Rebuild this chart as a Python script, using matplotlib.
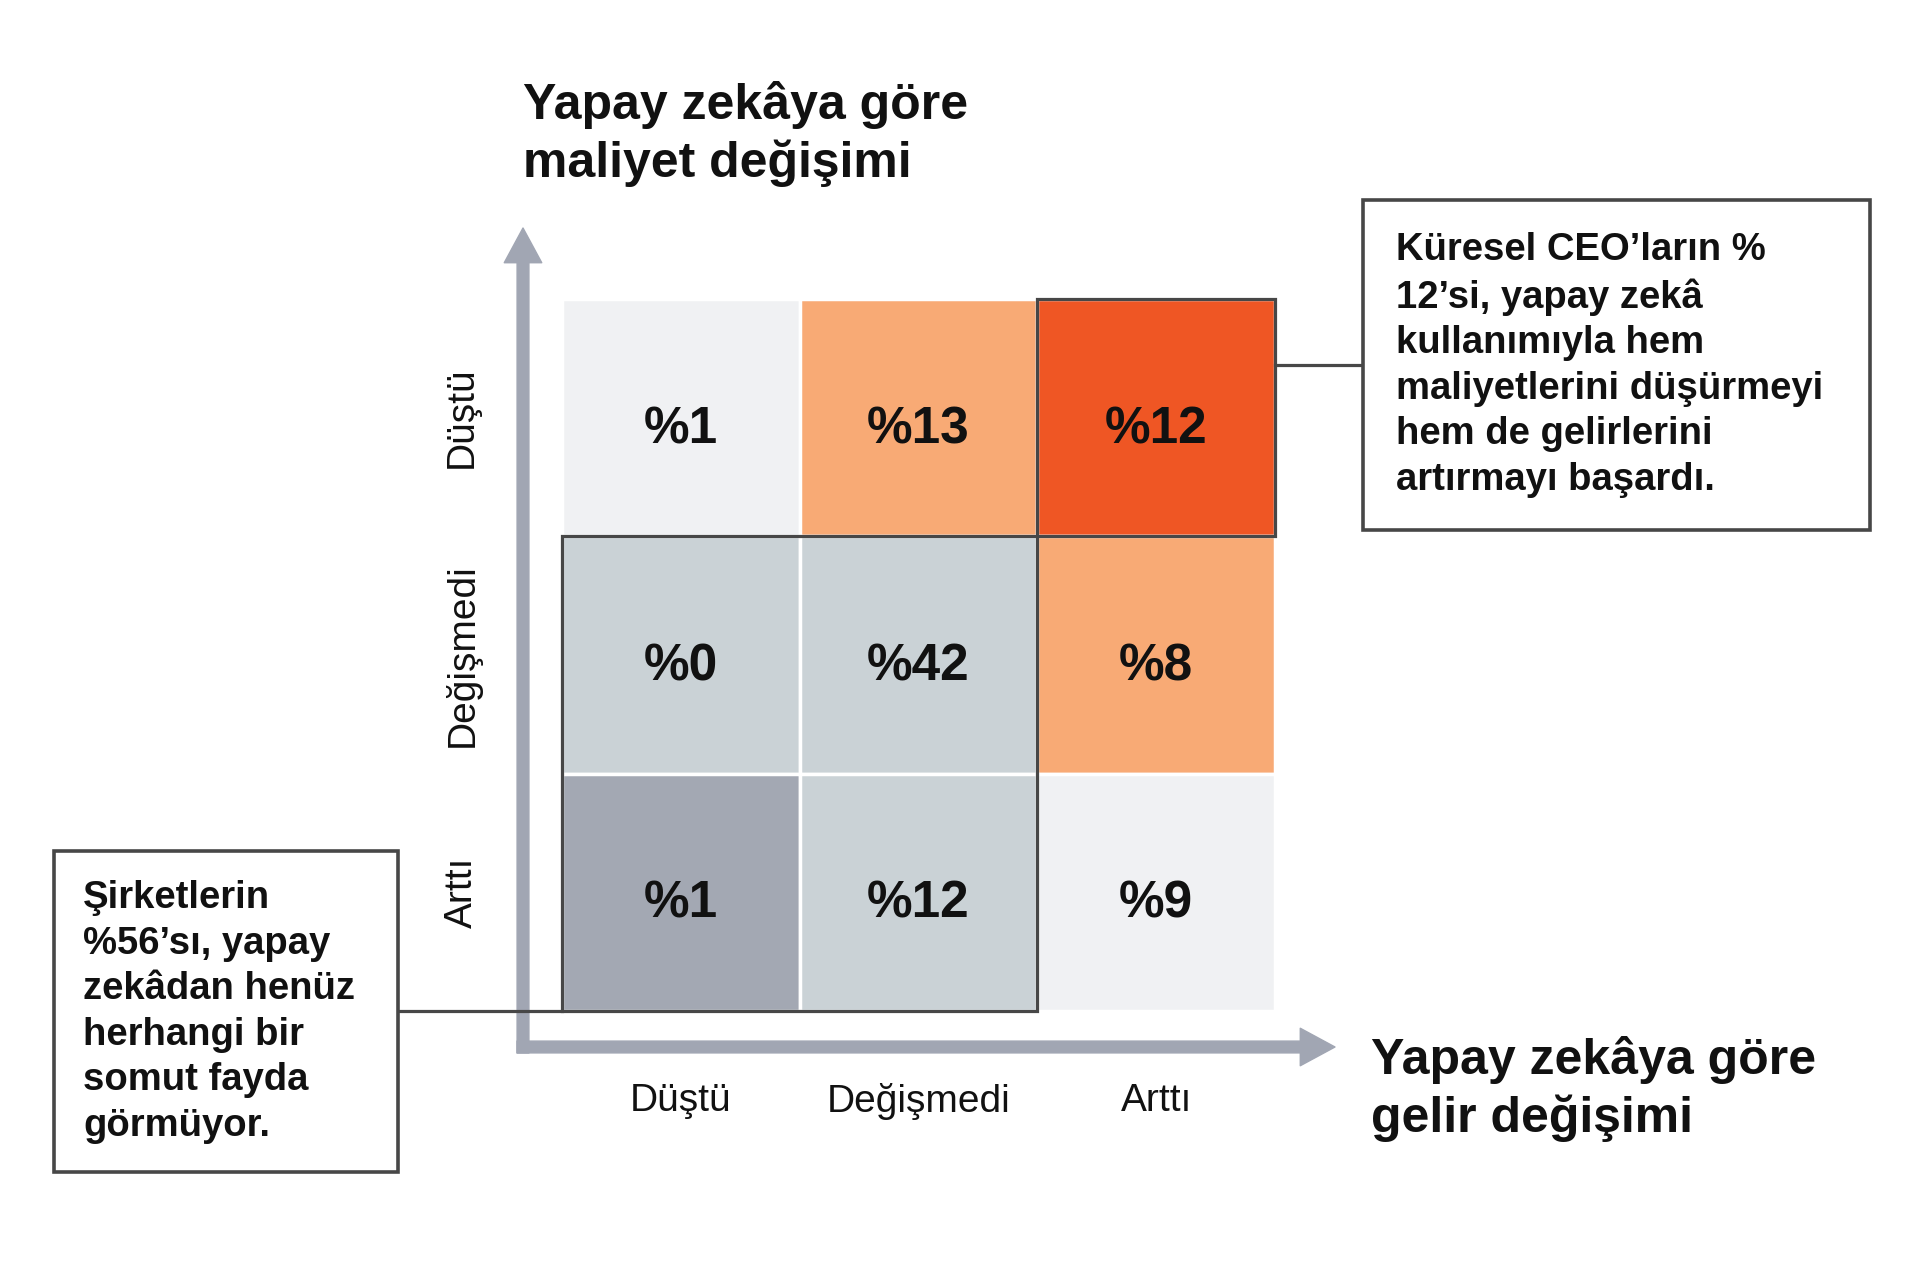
import matplotlib
matplotlib.use("Agg")
import matplotlib.pyplot as plt
from matplotlib.patches import FancyArrowPatch, Rectangle, ArrowStyle
from matplotlib.lines import Line2D

plt.rcParams['font.family'] = ['Liberation Sans', 'DejaVu Sans']

# ---- data ----
cost_labels = ["Düştü", "Değişmedi", "Arttı"]        # rows, top -> bottom
revenue_labels = ["Düştü", "Değişmedi", "Arttı"]     # columns, left -> right
row_dustu = [1, 13, 12]
row_degismedi = [0, 42, 8]
row_artti = [1, 12, 9]
values = [row_dustu, row_degismedi, row_artti]

y_title = "Yapay zekâya göre\nmaliyet değişimi"
x_title = "Yapay zekâya göre\ngelir değişimi"
note_right = ("Küresel CEO’ların %\n12’si, yapay zekâ\nkullanımıyla hem\n"
              "maliyetlerini düşürmeyi\nhem de gelirlerini\nartırmayı başardı.")
note_left = ("Şirketlerin\n%56’sı, yapay\nzekâdan henüz\nherhangi bir\n"
             "somut fayda\ngörmüyor.")

# ---- styles ----
C_LIGHT = '#f0f1f3'
C_PEACH = '#f8aa75'
C_RED = '#ef5624'
C_BLUEGREY = '#cad2d6'
C_DARKGREY = '#a3a8b3'
cell_colors = [[C_LIGHT, C_PEACH, C_RED],
               [C_BLUEGREY, C_BLUEGREY, C_PEACH],
               [C_DARKGREY, C_BLUEGREY, C_LIGHT]]
ARROW = '#a1a6b3'
BORDER = '#474747'

W, H = 1920, 1262
fig = plt.figure(figsize=(W / 100, H / 100), dpi=100)
fig.patch.set_facecolor('white')

def fx(px):
    return px / W

def fy(py):
    return 1 - py / H

gl, gr, gt, gb = 562, 1275, 299, 1011
ax = fig.add_axes([fx(gl), fy(gb), fx(gr - gl), (gb - gt) / H])
ax.set_xlim(0, 3)
ax.set_ylim(0, 3)
ax.axis('off')

n = len(cost_labels)
for r, row in enumerate(values):
    for c, v in enumerate(row):
        ax.bar(c + 0.5, 1, bottom=n - 1 - r, width=1, color=cell_colors[r][c],
               edgecolor='white', linewidth=2.5, zorder=1)
        ax.text(c + 0.5, n - 1 - r + 0.45, f"%{v}", ha='center', va='center',
                fontsize=37, fontweight='bold', color='#111111', zorder=3)

# highlight boxes
ax.add_patch(Rectangle((2, 2), 1, 1, fill=False, edgecolor=BORDER, lw=2.3,
                       zorder=4, clip_on=False))
ax.add_patch(Rectangle((0, 0), 2, 2, fill=False, edgecolor=BORDER, lw=2.3,
                       zorder=4, clip_on=False))

# category labels
for c, lab in enumerate(revenue_labels):
    ax.text(c + 0.5, -0.38, lab, ha='center', va='center', fontsize=28,
            color='#111111', clip_on=False)
for r, lab in enumerate(cost_labels):
    ax.text(-0.42, n - 1 - r + 0.5, lab, ha='center', va='center', fontsize=28,
            rotation=90, color='#111111', clip_on=False)

# axis arrows (figure pixel layout)
cx, cy = 523, 1047
half = 6
style = ArrowStyle.Simple(head_length=25, head_width=27, tail_width=8.5)
va = FancyArrowPatch((fx(cx), fy(cy + half)), (fx(cx), fy(228)),
                     transform=fig.transFigure, arrowstyle=style, color=ARROW,
                     shrinkA=0, shrinkB=0, zorder=0)
ha = FancyArrowPatch((fx(cx - half), fy(cy)), (fx(1335), fy(cy)),
                     transform=fig.transFigure, arrowstyle=style, color=ARROW,
                     shrinkA=0, shrinkB=0, zorder=0)
fig.patches.extend([va, ha])

# axis titles
fig.text(fx(523), fy(134), y_title, ha='left', va='center', fontsize=36,
         fontweight='bold', color='#111111', linespacing=1.26)
fig.text(fx(1371), fy(1089), x_title, ha='left', va='center', fontsize=36,
         fontweight='bold', color='#111111', linespacing=1.26)

# annotation boxes
def box(x0, y0, x1, y1):
    fig.patches.append(Rectangle((fx(x0), fy(y1)), fx(x1 - x0), (y1 - y0) / H,
                                 transform=fig.transFigure, fill=True,
                                 facecolor='white', edgecolor=BORDER, lw=2.6,
                                 zorder=5))

box(1363, 200, 1870, 530)
fig.lines.append(Line2D([fx(1275), fx(1363)], [fy(365), fy(365)],
                        transform=fig.transFigure, color=BORDER, lw=2.3))
fig.text(fx(1396), fy(365), note_right, ha='left', va='center', fontsize=27.5,
         fontweight='bold', color='#111111', linespacing=1.345, zorder=6)

box(54, 851, 398, 1172)
fig.lines.append(Line2D([fx(398), fx(562)], [fy(1011), fy(1011)],
                        transform=fig.transFigure, color=BORDER, lw=2.3))
fig.text(fx(83), fy(1012), note_left, ha='left', va='center', fontsize=27.5,
         fontweight='bold', color='#111111', linespacing=1.345, zorder=6)

fig.savefig("out.png", dpi=100, facecolor='white')
